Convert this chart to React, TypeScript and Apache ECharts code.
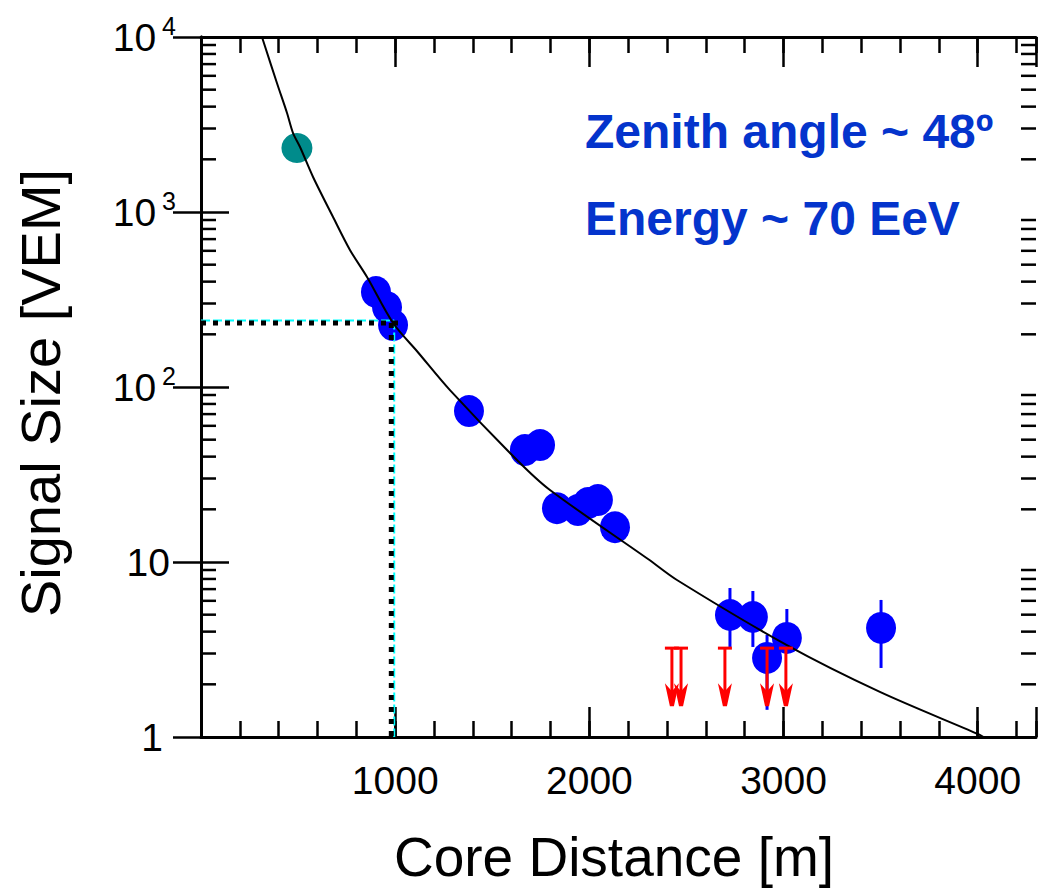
import React, { useEffect, useRef } from "react";
import * as echarts from "echarts";

// ---- data ----
const tealPoint = [[494, 2321]];
const bluePoints = [
  [901, 349], [958, 286], [989, 226],
  [1380, 72.9],
  [1668, 43.6], [1746, 46.6],
  [1833, 20.3], [1941, 19.8], [1993, 21.7], [2044, 22.6],
  [2132, 15.8],
  [2724, 4.98], [2842, 4.85], [2915, 2.83], [3017, 3.68], [3502, 4.2],
];
// [distance, low, high]
const errorBars = [
  [2724, 3.27, 7.1],
  [2842, 3.27, 6.83],
  [2915, 1.43, 3.83],
  [3017, 3.02, 5.39],
  [3502, 2.48, 6.07],
];
// [distance, upper limit, arrow tip]
const upperLimits = [
  [2425, 3.22, 1.5],
  [2472, 3.22, 1.5],
  [2698, 3.22, 1.5],
  [2915, 3.22, 1.5],
  [3012, 3.22, 1.5],
];
// fitted lateral distribution curve, points read along it
const ldfCurve = [
  [314, 10000], [391, 5458], [443, 3680], [474, 2827], [510, 2352], [577, 1585],
  [680, 936], [767, 607], [855, 425], [989, 232], [1117, 158], [1282, 96],
  [1627, 38.3], [1797, 25.8], [2302, 10.4], [2451, 7.89], [3017, 3.35],
  [3496, 1.81], [4001, 1.04], [4030, 1.0],
];
const s1000Black = 232;
const s1000Cyan = 240;
const refBlackX = 980;
const refBlackEnd = 1045;
const refCyanX = 995;
const xTickLabels = [1000, 2000, 3000, 4000];
const yMinorTicks = [1, 10, 100, 1000].flatMap((d) => [2, 3, 4, 5, 6, 7, 8, 9].map((m) => m * d));

const X_MIN = 0;
const X_MAX = 4300;
const FONT = "'Liberation Sans', Arial, Helvetica, sans-serif";

export default function App() {
  const ref = useRef<HTMLDivElement>(null);
  useEffect(() => {
    if (!ref.current) return;
    const chart = echarts.init(ref.current, null, { renderer: "svg" });
    const axisLineStyle = { color: "#000", width: 3 };
    const tickStyle = { color: "#000", width: 2.5 };
    const xCommon = {
      type: "value" as const,
      min: X_MIN,
      max: X_MAX,
      splitLine: { show: false },
      gridIndex: 0,
    };
    const yCommon = {
      type: "log" as const,
      logBase: 10,
      min: 1,
      max: 10000,
      splitLine: { show: false },
      minorTick: { show: false },
      minorSplitLine: { show: false },
    };
    const option: any = {
      animation: false,
      backgroundColor: "#fff",
      grid: { left: 201, top: 37, width: 835, height: 700, containLabel: false },
      xAxis: [
        {
          ...xCommon,
          position: "bottom",
          interval: 1000,
          axisLine: { show: true, lineStyle: axisLineStyle },
          axisTick: { show: true, inside: true, length: 30, lineStyle: tickStyle },
          axisLabel: {
            show: true,
            margin: 24,
            fontSize: 39,
            color: "#000",
            fontFamily: FONT,
            formatter: (v: number) => (xTickLabels.includes(v) ? String(v) : ""),
          },
        },
        {
          ...xCommon,
          position: "bottom",
          interval: 200,
          axisLine: { show: false },
          axisTick: { show: true, inside: true, length: 16, lineStyle: tickStyle },
          axisLabel: { show: false },
        },
        {
          ...xCommon,
          position: "top",
          interval: 1000,
          axisLine: { show: true, lineStyle: axisLineStyle },
          axisTick: { show: true, inside: true, length: 30, lineStyle: tickStyle },
          axisLabel: { show: false },
        },
        {
          ...xCommon,
          position: "top",
          interval: 200,
          axisLine: { show: false },
          axisTick: { show: true, inside: true, length: 16, lineStyle: tickStyle },
          axisLabel: { show: false },
        },
      ],
      yAxis: [
        {
          ...yCommon,
          position: "left",
          axisLine: { show: true, lineStyle: axisLineStyle },
          axisTick: { show: true, inside: true, length: 28, lineStyle: tickStyle },
          axisLabel: {
            show: true,
            margin: 25,
            color: "#000",
            fontFamily: FONT,
            formatter: (v: number) => {
              const e = Math.round(Math.log10(v));
              if (e === 0) return "{one|1}";
              if (e === 1) return "{ten|10}";
              return `{b|10}{sup|${e}}`;
            },
            rich: {
              b: { fontSize: 39, fontFamily: FONT, color: "#000" },
              sup: { fontSize: 25, fontFamily: FONT, color: "#000", verticalAlign: "bottom", padding: [0, 0, 22, 6] },
              ten: { fontSize: 39, fontFamily: FONT, color: "#000", padding: [0, 6, 0, 0] },
              one: { fontSize: 39, fontFamily: FONT, color: "#000", padding: [0, 13, 0, 0] },
            },
          },
        },
        {
          ...yCommon,
          position: "right",
          axisLine: { show: true, lineStyle: axisLineStyle },
          axisTick: { show: true, inside: true, length: 28, lineStyle: tickStyle },
          axisLabel: { show: false },
        },
      ],
      graphic: [
        {
          type: "text",
          x: 614,
          y: 857,
          style: {
            text: "Core Distance [m]",
            font: `55px ${FONT}`,
            fill: "#000",
            align: "center",
            verticalAlign: "middle",
          },
        },
        {
          type: "text",
          x: 40,
          y: 393,
          rotation: Math.PI / 2,
          style: {
            text: "Signal Size [VEM]",
            font: `56px ${FONT}`,
            fill: "#000",
            align: "center",
            verticalAlign: "middle",
          },
        },
        {
          type: "text",
          x: 585,
          y: 131,
          style: {
            text: "Zenith angle ~ 48º",
            font: `bold 48px ${FONT}`,
            fill: "#0434cc",
            align: "left",
            verticalAlign: "middle",
          },
        },
        {
          type: "text",
          x: 585,
          y: 218,
          style: {
            text: "Energy ~ 70 EeV",
            font: `bold 48px ${FONT}`,
            fill: "#0434cc",
            align: "left",
            verticalAlign: "middle",
          },
        },
      ],
      series: [
        {
          type: "custom",
          name: "minorYTicks",
          silent: true,
          z: 3,
          data: yMinorTicks.map((v) => [X_MIN, v]),
          renderItem: (_p: any, api: any) => {
            const v = api.value(1);
            const l = api.coord([X_MIN, v]);
            const r = api.coord([X_MAX, v]);
            return {
              type: "group",
              children: [
                { type: "line", shape: { x1: l[0], y1: l[1], x2: l[0] + 15, y2: l[1] }, style: { stroke: "#000", lineWidth: 2.5 } },
                { type: "line", shape: { x1: r[0] - 15, y1: r[1], x2: r[0], y2: r[1] }, style: { stroke: "#000", lineWidth: 2.5 } },
              ],
            };
          },
        },
        {
          type: "custom",
          name: "errors",
          silent: true,
          z: 4,
          data: errorBars,
          renderItem: (_p: any, api: any) => {
            const lo = api.coord([api.value(0), api.value(1)]);
            const hi = api.coord([api.value(0), api.value(2)]);
            return {
              type: "line",
              shape: { x1: lo[0], y1: lo[1], x2: hi[0], y2: hi[1] },
              style: { stroke: "#0000ff", lineWidth: 3 },
            };
          },
        },
        {
          type: "scatter",
          name: "teal",
          z: 5,
          data: tealPoint,
          symbol: "circle",
          symbolSize: [31, 30],
          itemStyle: { color: "#008b8b", opacity: 1 },
        },
        {
          type: "scatter",
          name: "stations",
          z: 5,
          data: bluePoints,
          symbol: "circle",
          symbolSize: [30, 32],
          itemStyle: { color: "#0000ff", opacity: 1 },
        },
        {
          type: "line",
          name: "cyanH",
          z: 6,
          symbol: "none",
          silent: true,
          data: [[X_MIN, s1000Cyan], [refCyanX, s1000Cyan]],
          lineStyle: { color: "#00ffff", width: 2, type: [9, 3] },
        },
        {
          type: "line",
          name: "cyanV",
          z: 6,
          symbol: "none",
          silent: true,
          data: [[refCyanX, s1000Cyan], [refCyanX, 1]],
          lineStyle: { color: "#00ffff", width: 2, type: [9, 3] },
        },
        {
          type: "line",
          name: "blackH",
          z: 7,
          symbol: "none",
          silent: true,
          data: [[X_MIN, s1000Black], [refBlackEnd, s1000Black]],
          lineStyle: { color: "#000", width: 5, type: [5, 7], cap: "butt" },
        },
        {
          type: "line",
          name: "blackV",
          z: 7,
          symbol: "none",
          silent: true,
          data: [[refBlackX, s1000Black], [refBlackX, 1]],
          lineStyle: { color: "#000", width: 5, type: [5, 7], cap: "butt" },
        },
        {
          type: "line",
          name: "ldf",
          z: 8,
          symbol: "none",
          silent: true,
          smooth: 0.3,
          clip: true,
          data: ldfCurve,
          lineStyle: { color: "#000", width: 2 },
        },
        {
          type: "custom",
          name: "upperLimits",
          silent: true,
          z: 9,
          data: upperLimits,
          renderItem: (_p: any, api: any) => {
            const top = api.coord([api.value(0), api.value(1)]);
            const tip = api.coord([api.value(0), api.value(2)]);
            const x = top[0];
            const headTop = tip[1] - 23;
            return {
              type: "group",
              children: [
                { type: "line", shape: { x1: x - 7, y1: top[1], x2: x + 7, y2: top[1] }, style: { stroke: "#ff0000", lineWidth: 3 } },
                { type: "line", shape: { x1: x, y1: top[1], x2: x, y2: tip[1] - 4 }, style: { stroke: "#ff0000", lineWidth: 3 } },
                {
                  type: "polygon",
                  shape: { points: [[x - 7, headTop], [x, headTop + 8], [x + 7, headTop], [x + 2, tip[1]], [x - 2, tip[1]]] },
                  style: { fill: "#ff0000" },
                },
              ],
            };
          },
        },
      ],
    };
    chart.setOption(option);
    return () => chart.dispose();
  }, []);
  return (
    <div
      ref={ref}
      style={{ position: "absolute", left: 0, top: 0, width: 1041, height: 889, background: "#fff" }}
    />
  );
}
